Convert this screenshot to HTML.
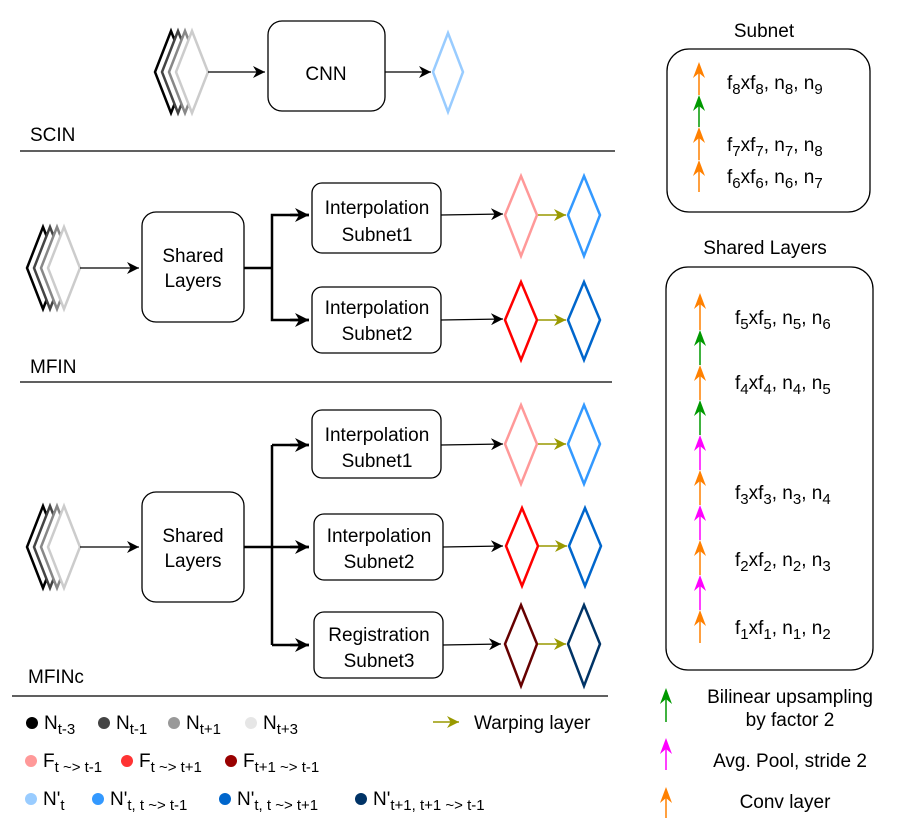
<!DOCTYPE html>
<html><head><meta charset="utf-8"><style>
html,body{margin:0;padding:0;background:#fff}
svg{display:block}
text{font-family:"Liberation Sans",Arial,sans-serif}
</style></head><body>
<svg width="897" height="824" viewBox="0 0 897 824" xmlns="http://www.w3.org/2000/svg">
<defs>
<marker id="ah" markerWidth="12" markerHeight="12" refX="10" refY="5" orient="auto" markerUnits="userSpaceOnUse" viewBox="0 0 10 10"><path d="M0,0 L10,5 L0,10 L3,5 z" fill="#000"/></marker>
<marker id="ahb" markerWidth="14" markerHeight="14" refX="10" refY="5" orient="auto" markerUnits="userSpaceOnUse" viewBox="0 0 10 10"><path d="M0,0 L10,5 L0,10 L3,5 z" fill="#000"/></marker>
<marker id="ao" markerWidth="12" markerHeight="12" refX="10" refY="5" orient="auto" markerUnits="userSpaceOnUse" viewBox="0 0 10 10"><path d="M0,0 L10,5 L0,10 L3,5 z" fill="#999900"/></marker>
<g id="stack">
<path d="M16,0 L32,41 L16,82 L0,41 z" fill="#fff" stroke="#000" stroke-width="2.5"/>
<path d="M23,0 L39,41 L23,82 L7,41 z" fill="#fff" stroke="#444" stroke-width="2.5"/>
<path d="M30,0 L46,41 L30,82 L14,41 z" fill="#fff" stroke="#888" stroke-width="2.5"/>
<path d="M37,0 L53,41 L37,82 L21,41 z" fill="#fff" stroke="#ccc" stroke-width="2.5"/>
</g>
</defs>
<g font-size="19" fill="#000" font-family="Liberation Sans, Arial, sans-serif">
<!-- SCIN -->
<use href="#stack" x="155" y="31"/>
<line x1="208" y1="72" x2="265" y2="72" stroke="#000" stroke-width="1.3" marker-end="url(#ah)"/>
<rect x="268" y="21" width="117" height="90" rx="14" fill="#fff" stroke="#000" stroke-width="1.3"/>
<text x="326" y="80" text-anchor="middle">CNN</text>
<line x1="385" y1="72" x2="431" y2="72" stroke="#000" stroke-width="1.3" marker-end="url(#ah)"/>
<path d="M448,33 L463,72 L448,112 L433,72 z" fill="none" stroke="#99ccff" stroke-width="2.5"/>
<text x="30" y="141">SCIN</text>
<line x1="20" y1="151" x2="615" y2="151" stroke="#000" stroke-width="1.3"/>

<!-- MFIN -->
<use href="#stack" x="27" y="227"/>
<line x1="80" y1="268" x2="139" y2="268" stroke="#000" stroke-width="1.3" marker-end="url(#ah)"/>
<rect x="142" y="212" width="102" height="110" rx="14" fill="#fff" stroke="#000" stroke-width="1.3"/>
<text x="193" y="262" text-anchor="middle">Shared</text><text x="193" y="287" text-anchor="middle">Layers</text>
<path d="M244,268 H272 V215 H309 M272,268 V320 H309" fill="none" stroke="#000" stroke-width="2.5"/>
<line x1="290" y1="215" x2="309" y2="215" stroke="#000" stroke-width="2.5" marker-end="url(#ahb)"/>
<line x1="290" y1="320" x2="309" y2="320" stroke="#000" stroke-width="2.5" marker-end="url(#ahb)"/>
<rect x="312" y="183" width="129" height="70" rx="10" fill="#fff" stroke="#000" stroke-width="1.3"/>
<text x="377" y="214" text-anchor="middle">Interpolation</text><text x="377" y="241" text-anchor="middle">Subnet1</text>
<rect x="312" y="287" width="129" height="66" rx="10" fill="#fff" stroke="#000" stroke-width="1.3"/>
<text x="377" y="314" text-anchor="middle">Interpolation</text><text x="377" y="340" text-anchor="middle">Subnet2</text>
<line x1="441" y1="215" x2="503" y2="214" stroke="#000" stroke-width="1.3" marker-end="url(#ah)"/>
<line x1="441" y1="320" x2="503" y2="319" stroke="#000" stroke-width="1.3" marker-end="url(#ah)"/>
<path d="M521,176 L537,215 L521,256 L505,215 z" fill="none" stroke="#ff9999" stroke-width="2.5"/>
<path d="M584,176 L600,215 L584,256 L568,215 z" fill="none" stroke="#3399ff" stroke-width="2.5"/>
<line x1="538" y1="215" x2="566" y2="215" stroke="#999900" stroke-width="1.5" marker-end="url(#ao)"/>
<path d="M521,282 L537,320 L521,360 L505,320 z" fill="none" stroke="#ff0000" stroke-width="2.5"/>
<path d="M584,282 L600,320 L584,360 L568,320 z" fill="none" stroke="#0066cc" stroke-width="2.5"/>
<line x1="538" y1="320" x2="566" y2="320" stroke="#999900" stroke-width="1.5" marker-end="url(#ao)"/>
<text x="30" y="373">MFIN</text>
<line x1="20" y1="382" x2="612" y2="382" stroke="#000" stroke-width="1.3"/>

<!-- MFINc -->
<use href="#stack" x="27" y="506"/>
<line x1="80" y1="547" x2="139" y2="547" stroke="#000" stroke-width="1.3" marker-end="url(#ah)"/>
<rect x="142" y="492" width="102" height="110" rx="14" fill="#fff" stroke="#000" stroke-width="1.3"/>
<text x="193" y="542" text-anchor="middle">Shared</text><text x="193" y="567" text-anchor="middle">Layers</text>
<path d="M244,547 H272 M272,445 V645" fill="none" stroke="#000" stroke-width="2.5"/>
<path d="M272,445 H309 M272,547 H309 M272,645 H309" fill="none" stroke="#000" stroke-width="2.5"/>
<line x1="290" y1="445" x2="309" y2="445" stroke="#000" stroke-width="2.5" marker-end="url(#ahb)"/>
<line x1="290" y1="547" x2="309" y2="547" stroke="#000" stroke-width="2.5" marker-end="url(#ahb)"/>
<line x1="290" y1="645" x2="309" y2="645" stroke="#000" stroke-width="2.5" marker-end="url(#ahb)"/>
<rect x="312" y="410" width="129" height="68" rx="10" fill="#fff" stroke="#000" stroke-width="1.3"/>
<text x="377" y="441" text-anchor="middle">Interpolation</text><text x="377" y="467" text-anchor="middle">Subnet1</text>
<rect x="314" y="514" width="129" height="66" rx="10" fill="#fff" stroke="#000" stroke-width="1.3"/>
<text x="379" y="542" text-anchor="middle">Interpolation</text><text x="379" y="568" text-anchor="middle">Subnet2</text>
<rect x="314" y="612" width="129" height="66" rx="10" fill="#fff" stroke="#000" stroke-width="1.3"/>
<text x="379" y="641" text-anchor="middle">Registration</text><text x="379" y="667" text-anchor="middle">Subnet3</text>
<line x1="441" y1="445" x2="503" y2="444" stroke="#000" stroke-width="1.3" marker-end="url(#ah)"/>
<line x1="443" y1="547" x2="503" y2="546" stroke="#000" stroke-width="1.3" marker-end="url(#ah)"/>
<line x1="443" y1="645" x2="501" y2="644" stroke="#000" stroke-width="1.3" marker-end="url(#ah)"/>
<path d="M521,405 L537,444 L521,484 L505,444 z" fill="none" stroke="#ff9999" stroke-width="2.5"/>
<path d="M584,405 L600,444 L584,484 L568,444 z" fill="none" stroke="#3399ff" stroke-width="2.5"/>
<line x1="538" y1="444" x2="566" y2="444" stroke="#999900" stroke-width="1.5" marker-end="url(#ao)"/>
<path d="M522,508 L538,546 L522,586 L506,546 z" fill="none" stroke="#ff0000" stroke-width="2.5"/>
<path d="M585,508 L601,546 L585,586 L569,546 z" fill="none" stroke="#0066cc" stroke-width="2.5"/>
<line x1="539" y1="546" x2="567" y2="546" stroke="#999900" stroke-width="1.5" marker-end="url(#ao)"/>
<path d="M521,605 L537,644 L521,686 L505,644 z" fill="none" stroke="#660000" stroke-width="2.5"/>
<path d="M584,605 L600,644 L584,686 L568,644 z" fill="none" stroke="#003366" stroke-width="2.5"/>
<line x1="538" y1="644" x2="566" y2="644" stroke="#999900" stroke-width="1.5" marker-end="url(#ao)"/>
<text x="28" y="683">MFINc</text>
<line x1="12" y1="696" x2="608" y2="696" stroke="#000" stroke-width="1.3"/>

<!-- legend -->
<circle cx="32" cy="723" r="6" fill="#000"/>
<text x="44" y="729">N<tspan font-size="15" dy="5">t-3</tspan></text>
<circle cx="104" cy="723" r="6" fill="#444"/>
<text x="116" y="729">N<tspan font-size="15" dy="5">t-1</tspan></text>
<circle cx="174" cy="723" r="6" fill="#999"/>
<text x="186" y="729">N<tspan font-size="15" dy="5">t+1</tspan></text>
<circle cx="251" cy="723" r="6" fill="#e6e6e6"/>
<text x="263" y="729">N<tspan font-size="15" dy="5">t+3</tspan></text>
<line x1="433" y1="722" x2="459" y2="722" stroke="#999900" stroke-width="1.5" marker-end="url(#ao)"/>
<text x="474" y="729">Warping layer</text>

<circle cx="31" cy="761" r="6" fill="#ff9999"/>
<text x="43" y="767">F<tspan font-size="15" dy="5">t ~&gt; t-1</tspan></text>
<circle cx="127" cy="761" r="6" fill="#ff3333"/>
<text x="139" y="767">F<tspan font-size="15" dy="5">t ~&gt; t+1</tspan></text>
<circle cx="231" cy="761" r="6" fill="#990000"/>
<text x="243" y="767">F<tspan font-size="15" dy="5">t+1 ~&gt; t-1</tspan></text>

<circle cx="31" cy="799" r="6" fill="#99ccff"/>
<text x="43" y="805">N'<tspan font-size="15" dy="5">t</tspan></text>
<circle cx="98" cy="799" r="6" fill="#3399ff"/>
<text x="110" y="805">N'<tspan font-size="15" dy="5">t, t ~&gt; t-1</tspan></text>
<circle cx="225" cy="799" r="6" fill="#0066cc"/>
<text x="237" y="805">N'<tspan font-size="15" dy="5">t, t ~&gt; t+1</tspan></text>
<circle cx="361" cy="799" r="6" fill="#003366"/>
<text x="373" y="805">N'<tspan font-size="15" dy="5">t+1, t+1 ~&gt; t-1</tspan></text>

<!-- Subnet -->
<text x="764" y="37" text-anchor="middle">Subnet</text>
<rect x="667" y="49" width="203" height="163" rx="22" fill="#fff" stroke="#000" stroke-width="1.3"/>
<g stroke-width="1.5">
<line x1="699" y1="70" x2="699" y2="95" stroke="#ff8000"/>
<line x1="699" y1="103" x2="699" y2="127" stroke="#009900"/>
<line x1="699" y1="135" x2="699" y2="160" stroke="#ff8000"/>
<line x1="699" y1="168" x2="699" y2="192" stroke="#ff8000"/>
</g>
<path d="M699,62 l6,16 l-6,-5 l-6,5 z" fill="#ff8000"/>
<path d="M699,95 l6,16 l-6,-5 l-6,5 z" fill="#009900"/>
<path d="M699,127 l6,16 l-6,-5 l-6,5 z" fill="#ff8000"/>
<path d="M699,160 l6,16 l-6,-5 l-6,5 z" fill="#ff8000"/>
<text x="727" y="89">f<tspan font-size="15" dy="5">8</tspan><tspan dy="-5">xf</tspan><tspan font-size="15" dy="5">8</tspan><tspan dy="-5">, n</tspan><tspan font-size="15" dy="5">8</tspan><tspan dy="-5">, n</tspan><tspan font-size="15" dy="5">9</tspan></text>
<text x="727" y="151">f<tspan font-size="15" dy="5">7</tspan><tspan dy="-5">xf</tspan><tspan font-size="15" dy="5">7</tspan><tspan dy="-5">, n</tspan><tspan font-size="15" dy="5">7</tspan><tspan dy="-5">, n</tspan><tspan font-size="15" dy="5">8</tspan></text>
<text x="727" y="183">f<tspan font-size="15" dy="5">6</tspan><tspan dy="-5">xf</tspan><tspan font-size="15" dy="5">6</tspan><tspan dy="-5">, n</tspan><tspan font-size="15" dy="5">6</tspan><tspan dy="-5">, n</tspan><tspan font-size="15" dy="5">7</tspan></text>

<!-- Shared Layers -->
<text x="765" y="254" text-anchor="middle">Shared Layers</text>
<rect x="666" y="267" width="207" height="403" rx="22" fill="#fff" stroke="#000" stroke-width="1.3"/>
<g stroke-width="1.5">
<line x1="700" y1="300" x2="700" y2="330" stroke="#ff8000"/>
<line x1="700" y1="338" x2="700" y2="365" stroke="#009900"/>
<line x1="700" y1="373" x2="700" y2="400" stroke="#ff8000"/>
<line x1="700" y1="408" x2="700" y2="435" stroke="#009900"/>
<line x1="700" y1="443" x2="700" y2="470" stroke="#ff00ff"/>
<line x1="700" y1="478" x2="700" y2="505" stroke="#ff8000"/>
<line x1="700" y1="513" x2="700" y2="540" stroke="#ff00ff"/>
<line x1="700" y1="548" x2="700" y2="575" stroke="#ff8000"/>
<line x1="700" y1="583" x2="700" y2="610" stroke="#ff00ff"/>
<line x1="700" y1="618" x2="700" y2="643" stroke="#ff8000"/>
</g>
<path d="M700,293 l6,16 l-6,-5 l-6,5 z" fill="#ff8000"/>
<path d="M700,330 l6,16 l-6,-5 l-6,5 z" fill="#009900"/>
<path d="M700,365 l6,16 l-6,-5 l-6,5 z" fill="#ff8000"/>
<path d="M700,400 l6,16 l-6,-5 l-6,5 z" fill="#009900"/>
<path d="M700,435 l6,16 l-6,-5 l-6,5 z" fill="#ff00ff"/>
<path d="M700,470 l6,16 l-6,-5 l-6,5 z" fill="#ff8000"/>
<path d="M700,505 l6,16 l-6,-5 l-6,5 z" fill="#ff00ff"/>
<path d="M700,540 l6,16 l-6,-5 l-6,5 z" fill="#ff8000"/>
<path d="M700,575 l6,16 l-6,-5 l-6,5 z" fill="#ff00ff"/>
<path d="M700,610 l6,16 l-6,-5 l-6,5 z" fill="#ff8000"/>
<text x="735" y="324">f<tspan font-size="15" dy="5">5</tspan><tspan dy="-5">xf</tspan><tspan font-size="15" dy="5">5</tspan><tspan dy="-5">, n</tspan><tspan font-size="15" dy="5">5</tspan><tspan dy="-5">, n</tspan><tspan font-size="15" dy="5">6</tspan></text>
<text x="735" y="389">f<tspan font-size="15" dy="5">4</tspan><tspan dy="-5">xf</tspan><tspan font-size="15" dy="5">4</tspan><tspan dy="-5">, n</tspan><tspan font-size="15" dy="5">4</tspan><tspan dy="-5">, n</tspan><tspan font-size="15" dy="5">5</tspan></text>
<text x="735" y="499">f<tspan font-size="15" dy="5">3</tspan><tspan dy="-5">xf</tspan><tspan font-size="15" dy="5">3</tspan><tspan dy="-5">, n</tspan><tspan font-size="15" dy="5">3</tspan><tspan dy="-5">, n</tspan><tspan font-size="15" dy="5">4</tspan></text>
<text x="735" y="566">f<tspan font-size="15" dy="5">2</tspan><tspan dy="-5">xf</tspan><tspan font-size="15" dy="5">2</tspan><tspan dy="-5">, n</tspan><tspan font-size="15" dy="5">2</tspan><tspan dy="-5">, n</tspan><tspan font-size="15" dy="5">3</tspan></text>
<text x="735" y="634">f<tspan font-size="15" dy="5">1</tspan><tspan dy="-5">xf</tspan><tspan font-size="15" dy="5">1</tspan><tspan dy="-5">, n</tspan><tspan font-size="15" dy="5">1</tspan><tspan dy="-5">, n</tspan><tspan font-size="15" dy="5">2</tspan></text>

<!-- right legend -->
<line x1="666" y1="696" x2="666" y2="722" stroke="#009900" stroke-width="1.5"/>
<path d="M666,688 l6,16 l-6,-5 l-6,5 z" fill="#009900"/>
<text x="790" y="703" text-anchor="middle">Bilinear upsampling</text>
<text x="790" y="726" text-anchor="middle">by factor 2</text>
<line x1="666" y1="746" x2="666" y2="770" stroke="#ff00ff" stroke-width="1.5"/>
<path d="M666,738 l6,16 l-6,-5 l-6,5 z" fill="#ff00ff"/>
<text x="790" y="767" text-anchor="middle">Avg. Pool, stride 2</text>
<line x1="666" y1="795" x2="666" y2="818" stroke="#ff8000" stroke-width="1.5"/>
<path d="M666,787 l6,16 l-6,-5 l-6,5 z" fill="#ff8000"/>
<text x="785" y="808" text-anchor="middle">Conv layer</text>
</g>
</svg>
</body></html>
